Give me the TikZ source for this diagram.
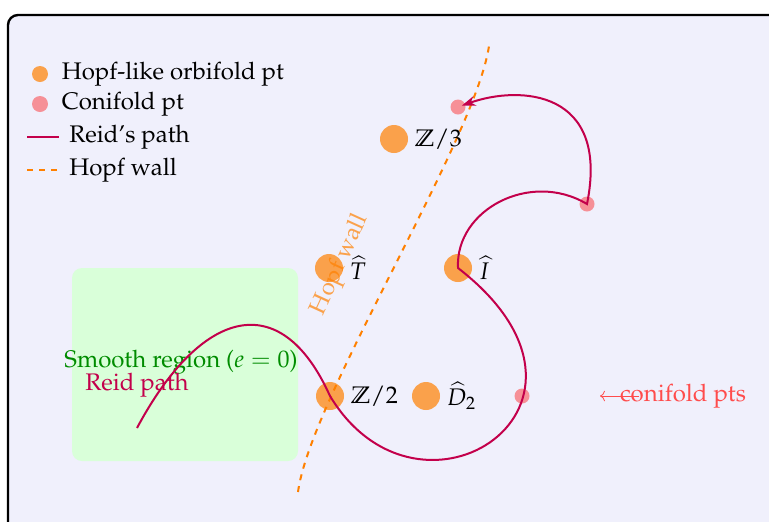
\documentclass[tikz,border=0pt]{standalone}
\usepackage[T1]{fontenc}
\usepackage{mathpazo}
\usepackage{amsmath, amssymb}
\usepackage{xcolor}
\usetikzlibrary{positioning, arrows.meta}
\definecolor{panelbg}{RGB}{240,240,252}
\definecolor{reidc}{RGB}{195,0,75}
\tikzstyle{orbpt} = [circle, fill=orange, fill opacity=0.7, inner sep=0, minimum size=14pt]
\tikzstyle{conpt} = [circle, fill=red, fill opacity=0.4, inner sep=0, minimum size=7.5pt]
\tikzstyle{reid} = [reidc, line width=1pt]
\tikzstyle{wall} = [orange, dashed, line width=1pt]
\tikzstyle{ptlabel} = [inner sep=2pt]

\begin{document}
\begin{tikzpicture}[x=0.5pt, y=-0.5pt, font=\large]
    \useasboundingbox (0,0) rectangle (769,521);
    \clip (0,0) rectangle (769,521);

    % Panel
    \draw[fill=panelbg, line width=1.2pt, rounded corners=5pt] (8,15) rectangle (800,560);

    % Smooth region
    \fill[green!15, rounded corners=5pt] (72,268) rectangle (298,461);
    \node[green!55!black] (smooth) at (181,362) {Smooth region ($e=0$)};

    % Hopf wall
    \draw[wall] (298,492) .. controls (310,400) and (475,140) .. (489,46);
    \node[rotate=65.5, text=orange, text opacity=0.7] (wall) at (340,265) {Hopf wall};

    % Hopf-like orbifold points
    \node[orbpt] (z3) at (394,139) {};
    \node[orbpt] (th) at (329,268) {};
    \node[orbpt] (ih) at (458,268) {};
    \node[orbpt] (z2) at (330,396) {};
    \node[orbpt] (d2) at (426,396) {};
    \node[ptlabel, right=1pt of z3] (z3l) {$\mathbb{Z}/3$};
    \node[ptlabel, right=1pt of th] (thl) {$\widehat{T}$};
    \node[ptlabel, right=1pt of ih] (ihl) {$\widehat{I}$};
    \node[ptlabel, right=1pt of z2] (z2l) {$\mathbb{Z}/2$};
    \node[ptlabel, right=1pt of d2] (d2l) {$\widehat{D}_2$};

    % Conifold points
    \node[conpt] (cn1) at (458,107) {};
    \node[conpt] (cn2) at (587,204) {};
    \node[conpt] (cn3) at (522,396) {};
    \node[red!70] (conl) at (683,396) {conifold pts};
    \coordinate (conend) at (600,396);
    \draw[->, red!70] ([xshift=13pt]conl.west) -- (conend);

    % Reid's path
    \coordinate (rstart) at (137,428);
    \draw[reid, -{Stealth[length=7pt, width=5pt]}, shorten >=2pt]
        (rstart) .. controls (200,310) and (280,285) .. (z2.center)
        .. controls (420,545) and (635,405) .. (ih.center)
        .. controls (455,210) and (530,170) .. (cn2.center)
        .. controls (610,90) and (520,85) .. (cn1.center);
    \node[reidc] (reidl) at (137,385) {Reid path};

    % Legend
    \node[orbpt, minimum size=8pt] (lgo) at (40,74) {};
    \node[inner sep=0, right=6.5pt of lgo] (lgol) {Hopf-like orbifold pt};
    \node[conpt, minimum size=8pt] (lgc) at (40,104) {};
    \node[inner sep=0, right=6.5pt of lgc] (lgcl) {Conifold pt};
    \coordinate (lgra) at (27,137);
    \coordinate (lgrb) at (59,137);
    \draw[reid] (lgra) -- (lgrb);
    \node[inner sep=0, right=5pt of lgrb] (lgrl) {Reid's path};
    \coordinate (lgwa) at (27,170);
    \coordinate (lgwb) at (59,170);
    \draw[wall] (lgwa) -- (lgwb);
    \node[inner sep=0, right=5pt of lgwb] (lgwl) {Hopf wall};
\end{tikzpicture}
\end{document}
